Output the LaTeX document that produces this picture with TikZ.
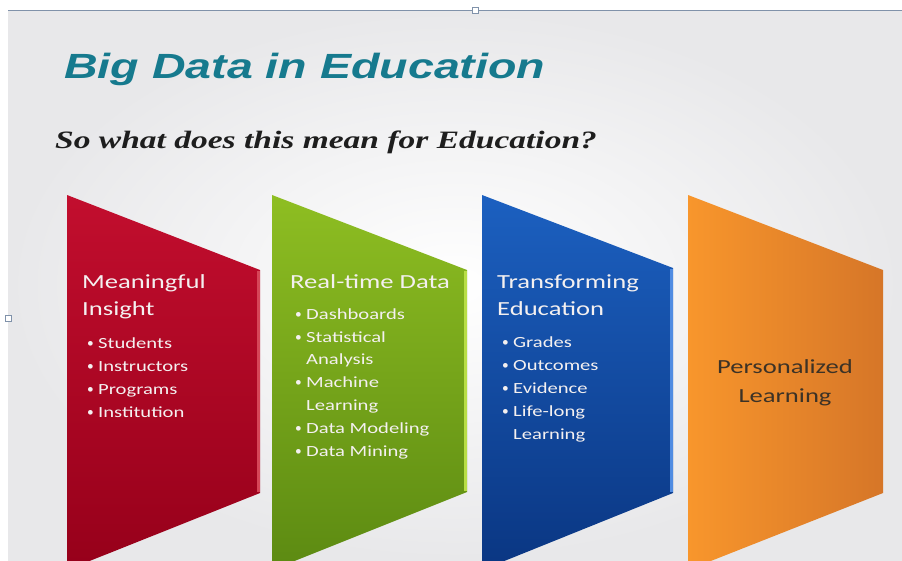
\documentclass[tikz,border=0pt]{standalone}
\usepackage{fontspec}
\setmainfont[FakeStretch=1.33]{Carlito}
\newfontfamily\titlefont[FakeStretch=1.33]{Liberation Sans}
\newfontfamily\askfont[FakeStretch=1.34]{Liberation Serif}
\definecolor{slidegray}{RGB}{232,232,234}
\definecolor{titleteal}{RGB}{22,122,142}
\definecolor{askblack}{RGB}{30,30,30}
\definecolor{panelfg}{RGB}{244,240,240}
\definecolor{redtop}{RGB}{194,14,46}
\definecolor{redbot}{RGB}{150,0,26}
\definecolor{redrim}{RGB}{214,70,88}
\definecolor{greentop}{RGB}{142,190,34}
\definecolor{greenbot}{RGB}{92,138,18}
\definecolor{greenrim}{RGB}{184,222,70}
\definecolor{bluetop}{RGB}{28,96,192}
\definecolor{bluebot}{RGB}{10,54,130}
\definecolor{bluerim}{RGB}{80,140,226}
\definecolor{orangeleft}{RGB}{248,150,44}
\definecolor{orangeright}{RGB}{214,118,40}
\definecolor{orangefg}{RGB}{60,50,38}
\definecolor{framecol}{RGB}{128,146,170}
\newcommand{\bul}{\makebox[12pt][l]{\hspace{1pt}\raisebox{1pt}{\scalebox{0.65}[0.85]{\textbullet}}}}
\newcommand{\cont}{\hspace*{12pt}}
\begin{document}
\begin{tikzpicture}[x=1pt,y=-1pt,
    heading/.style={anchor=base west,align=left,inner sep=0pt,text=panelfg,
      font=\fontsize{20}{27}\selectfont},
    bullets/.style={anchor=base west,align=left,inner sep=0pt,text=panelfg,
      font=\fontsize{15.5}{22.8}\selectfont},
    rim/.style={line width=2.5pt}]
  \useasboundingbox (0,0) rectangle (902,560);
  \clip (0,0) rectangle (902,560);
  \fill [white] (0,0) rectangle (902,560);
  % slide background
  \shade [inner color=white,outer color=slidegray] (8,10) rectangle (902,560);
  \draw [framecol,thin] (8,10) -- (902,10);
  \draw [framecol,fill=white,thin] (472,7) rectangle (478,13);
  \draw [framecol,fill=white,thin] (5,315) rectangle (11,321);

  \node [anchor=base west,inner sep=0pt,text=titleteal,
    font=\titlefont\bfseries\itshape\fontsize{35}{40}\selectfont] (title) at (64,78)
    {Big Data in Education};
  \node [anchor=base west,inner sep=0pt,text=askblack,
    font=\askfont\bfseries\itshape\fontsize{25}{30}\selectfont] (question) at (55,148)
    {So what does this mean for Education?};

  % the four panels
  \shade [top color=redtop,bottom color=redbot] (67,195) -- (260,270) -- (260,493) -- (67,570) -- cycle;
  \draw [rim,redrim] (258.5,271) -- (258.5,492);
  \shade [top color=greentop,bottom color=greenbot] (272,195) -- (467,270) -- (467,492) -- (272,570) -- cycle;
  \draw [rim,greenrim] (465.5,271) -- (465.5,491);
  \shade [top color=bluetop,bottom color=bluebot] (482,195) -- (673,268) -- (673,493) -- (482,570) -- cycle;
  \draw [rim,bluerim] (671.5,269) -- (671.5,492);
  \shade [left color=orangeleft,right color=orangeright] (688,195) -- (883,270) -- (883,493) -- (688,570) -- cycle;

  % base anchors sit on the last line of each text
  \node [heading] (insight) at (82,315) {Meaningful\\Insight};
  \node [bullets] (insightlist) at (86,417)
    {\bul Students\\\bul Instructors\\\bul Programs\\\bul Institution};

  \node [heading] (realtime) at (290,288) {Real-time Data};
  \node [bullets] (realtimelist) at (294,456)
    {\bul Dashboards\\\bul Statistical\\\cont Analysis\\\bul Machine\\\cont Learning\\
     \bul Data Modeling\\\bul Data Mining};

  \node [heading] (transform) at (497,315) {Transforming\\Education};
  \node [bullets] (transformlist) at (501,439)
    {\bul Grades\\\bul Outcomes\\\bul Evidence\\\bul Life-long\\\cont Learning};

  \node [anchor=base,align=center,inner sep=0pt,text=orangefg,
    font=\fontsize{20}{29}\selectfont] (personal) at (785,402)
    {Personalized\\Learning};
\end{tikzpicture}
\end{document}
